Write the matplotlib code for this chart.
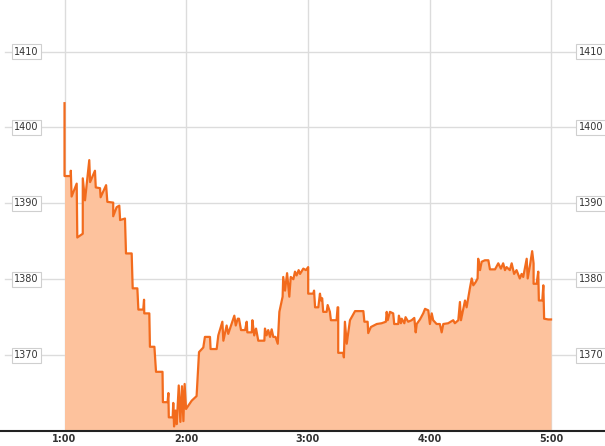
import matplotlib
matplotlib.use("Agg")
import matplotlib.pyplot as plt

# minutes after 1:00 and index level
minutes = [
    0, 0, 3.1, 3.1, 3.5, 6.0, 6.3, 9.0, 9.0, 10.1, 12.2, 12.6, 15.0, 15.4,
    17.5, 17.8, 20.5, 20.8, 21.1, 24.0, 24.0, 25.7, 27.0, 27.4, 29.8, 30.3,
    33.1, 33.6, 35.9, 36.4, 38.8, 39.2, 39.3, 41.8, 42.1, 44.3, 45.1, 48.3,
    48.5, 50.8, 51.2, 51.4, 53.3, 53.6, 54.0, 54.7, 55.3, 56.3, 57.1, 57.9,
    58.6, 59.2, 59.9, 62.7, 65.1, 66.3, 68.4, 69.2, 71.7, 72.0, 75.0, 75.8,
    77.8, 78.3, 79.9, 80.7, 83.7, 84.4, 85.4, 86.0, 87.0, 89.0, 89.8, 90.1,
    92.3, 92.6, 93.5, 94.4, 95.5, 98.5, 98.8, 99.6, 100.4, 101.3, 102.1,
    102.9, 104.0, 105.1, 105.9, 107.5, 107.8, 108.7, 109.7, 110.8, 111.5,
    112.8, 113.6, 114.4, 115.4, 116.1, 117.7, 119.0, 120.1, 120.1, 122.6,
    123.0, 123.5, 125.1, 125.9, 126.4, 127.0, 127.5, 129.2, 129.7, 130.8,
    131.3, 134.1, 134.6, 134.9, 134.9, 137.4, 137.7, 138.2, 139.1, 140.7,
    143.2, 147.3, 147.8, 149.4, 149.7, 151.0, 153.9, 156.3, 158.4, 158.8,
    159.3, 160.4, 162.0, 162.5, 164.5, 164.8, 165.8, 166.2, 167.5, 168.1,
    169.4, 171.1, 172.4, 173.1, 173.6, 175.2, 176.8, 177.7, 179.3, 180.1,
    181.0, 181.7, 183.4, 185.0, 185.9, 186.7, 189.1, 191.6, 192.4, 194.1,
    194.9, 195.4, 197.4, 198.2, 199.8, 200.7, 201.5, 202.6, 203.6, 203.9,
    204.8, 205.6, 207.2, 208.9, 209.7, 212.2, 213.8, 215.1, 216.2, 217.1,
    217.9, 219.5, 220.4, 221.6, 222.8, 224.4, 225.3, 226.1, 227.8, 228.3,
    229.4, 230.5, 231.2, 231.2, 232.7, 233.5, 233.8, 235.5, 236.0, 236.4,
    238.4, 239.8,
]
prices = [
    1403.2, 1393.6, 1393.6, 1394.3, 1390.9, 1392.6, 1385.5, 1386.0, 1393.3,
    1390.4, 1395.7, 1392.8, 1394.3, 1392.1, 1392.0, 1390.8, 1392.4, 1391.2,
    1390.2, 1390.1, 1388.3, 1389.5, 1389.7, 1387.8, 1388.0, 1383.4, 1383.4,
    1378.8, 1378.8, 1376.0, 1376.0, 1377.3, 1375.5, 1375.5, 1371.1, 1371.1,
    1367.8, 1367.8, 1363.8, 1363.8, 1365.0, 1361.8, 1361.8, 1363.7, 1360.6,
    1362.7, 1360.9, 1366.0, 1361.2, 1365.9, 1361.3, 1366.2, 1362.9, 1364.0,
    1364.6, 1370.4, 1371.0, 1372.4, 1372.4, 1370.8, 1370.8, 1372.6, 1374.4,
    1371.9, 1373.9, 1372.8, 1375.2, 1373.9, 1374.8, 1374.8, 1373.3, 1373.3,
    1374.4, 1373.0, 1373.0, 1374.6, 1372.6, 1373.5, 1371.9, 1371.9, 1373.5,
    1372.6, 1373.3, 1372.4, 1373.4, 1372.4, 1372.4, 1371.5, 1375.7, 1377.7,
    1380.3, 1378.5, 1380.8, 1377.7, 1380.3, 1380.0, 1381.0, 1380.5, 1381.2,
    1380.7, 1381.4, 1381.2, 1381.6, 1378.1, 1378.1, 1378.5, 1376.3, 1376.3,
    1378.1, 1377.2, 1377.5, 1375.7, 1375.7, 1376.6, 1375.7, 1374.6, 1374.6,
    1376.3, 1376.3, 1370.3, 1370.3, 1369.7, 1374.4, 1371.5, 1374.6, 1375.8,
    1375.8, 1374.4, 1374.4, 1372.9, 1373.7, 1374.1, 1374.2, 1374.4, 1375.7,
    1374.6, 1375.7, 1375.5, 1374.1, 1374.1, 1375.2, 1374.2, 1374.8, 1374.2,
    1375.0, 1374.4, 1374.6, 1374.9, 1373.0, 1374.1, 1374.7, 1375.5, 1376.1,
    1375.9, 1374.1, 1375.5, 1374.6, 1374.1, 1374.1, 1373.0, 1374.1, 1374.2,
    1374.6, 1374.2, 1374.6, 1377.0, 1374.6, 1377.2, 1376.3, 1378.8, 1380.1,
    1379.2, 1379.6, 1380.1, 1382.7, 1381.2, 1382.3, 1382.5, 1382.5, 1381.3,
    1381.3, 1382.1, 1381.4, 1382.1, 1381.2, 1381.6, 1381.2, 1382.1, 1380.7,
    1381.2, 1380.1, 1380.7, 1380.3, 1382.7, 1380.1, 1381.8, 1383.7, 1382.1,
    1379.4, 1379.4, 1381.0, 1377.2, 1377.2, 1379.2, 1374.8, 1374.7, 1374.7,
]

y_ticks = [1370, 1380, 1390, 1400, 1410]
x_ticks = [0, 60, 120, 180, 240]
x_labels = ["1:00", "2:00", "3:00", "4:00", "5:00"]

line_color = "#f26b1d"
fill_color = "#fdc29d"
grid_color = "#dcdcdc"

fig = plt.figure(figsize=(6.05, 4.46), dpi=100)
ax = fig.add_axes([0, 15 / 446, 1, 431 / 446])
ax.set_xlim(-31.8, 266.4)
ax.set_ylim(1360, 1416.8)

for v in y_ticks:
    ax.axhline(v, xmin=5 / 605, xmax=600 / 605, color=grid_color, lw=1, zorder=0)
for m in x_ticks:
    ax.axvline(m, color=grid_color, lw=1, zorder=0)

ax.fill_between(minutes, prices, 1360, color=fill_color, lw=0, zorder=1)
ax.plot(minutes, prices, color=line_color, lw=1.6, zorder=2)

box = dict(boxstyle="square,pad=0.25", fc="white", ec="#cfcfcf", lw=0.8)
for v in y_ticks:
    ax.text(26.5 / 605, v, str(v), transform=ax.get_yaxis_transform(),
            ha="center", va="center", fontsize=7, color="#333333", bbox=box, zorder=3)
    ax.text(591 / 605, v, str(v), transform=ax.get_yaxis_transform(),
            ha="center", va="center", fontsize=7, color="#333333", bbox=box, zorder=3)

for s in ["top", "left", "right"]:
    ax.spines[s].set_visible(False)
ax.spines["bottom"].set_color("#222222")
ax.spines["bottom"].set_linewidth(1.5)
ax.set_yticks([])
ax.set_xticks(x_ticks)
ax.set_xticklabels(x_labels, fontsize=7, fontweight="bold", color="#333333")
ax.tick_params(axis="x", length=0, pad=2)

fig.savefig("out.png", dpi=100)
